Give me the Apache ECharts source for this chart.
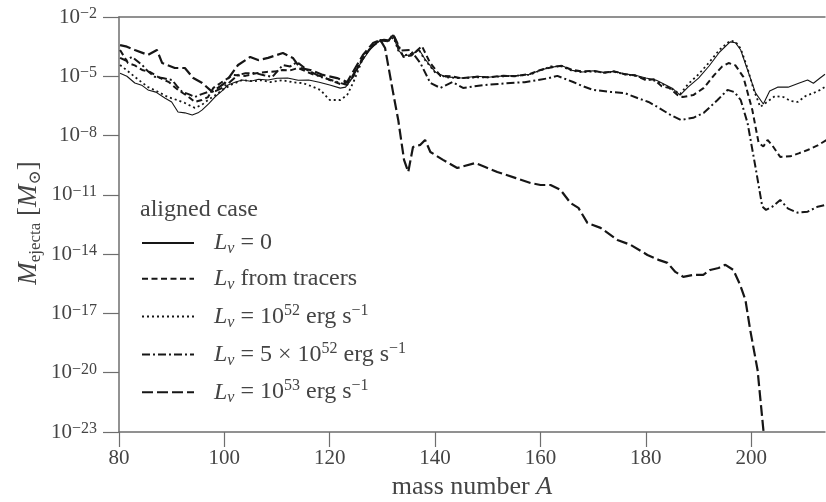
<!DOCTYPE html>
<html>
<head>
<meta charset="utf-8">
<script src="https://cdn.jsdelivr.net/npm/echarts/dist/echarts.min.js"></script>
<style>
  html, body { margin: 0; background: #fff; }
  #chart { width: 826px; height: 502px; }
</style>
</head>
<body>
<div id="chart"></div>
<script>
// mass number A, log10(M_ejecta / M_sun)
var xTicks = [80, 100, 120, 140, 160, 180, 200];
var yTickExp = [-23, -20, -17, -14, -11, -8, -5, -2];

var lNone = [[80.2,-4.85],[81.5,-5.0],[83,-5.34],[84.3,-5.45],[85.5,-5.69],[87,-5.8],[88.7,-6.1],[90,-6.3],[91.2,-6.81],[92.5,-6.85],[93.9,-6.96],[95,-6.85],[95.8,-6.7],[97,-6.4],[98.2,-6.05],[99.5,-5.75],[100.7,-5.44],[102,-5.3],[103.4,-5.19],[105,-5.25],[106.5,-5.15],[108.3,-5.19],[110,-5.1],[112,-5.09],[114,-5.2],[116,-5.19],[118,-5.3],[120,-5.44],[122,-5.6],[123,-5.55],[124,-5.2],[126,-4.28],[128,-3.52],[129.5,-3.2],[131,-3.25],[132,-2.9],[133,-3.67],[134,-3.97],[135.5,-3.9],[137,-3.67],[138,-4.1],[140,-4.78],[142,-5.03],[145,-5.09],[148,-5.0],[150,-5.05],[153,-4.98],[155,-4.98],[158,-4.9],[160,-4.68],[162,-4.55],[164,-4.45],[166,-4.7],[168,-4.78],[170,-4.72],[172,-4.8],[174,-4.75],[176,-4.88],[178,-4.95],[180,-5.09],[182,-5.2],[183.5,-5.4],[185,-5.6],[186.5,-5.95],[188,-5.55],[190,-5.09],[192,-4.48],[194,-3.77],[196,-3.26],[197,-3.3],[198,-3.67],[199.3,-4.68],[200.8,-5.84],[202.3,-6.4],[203.5,-5.75],[205,-5.55],[207,-5.55],[209,-5.35],[210.7,-5.19],[211.8,-5.35],[213,-5.1],[214,-4.9]];

var lTracers = [[80.2,-3.67],[81.7,-4.33],[83,-4.45],[84.4,-4.68],[86,-4.8],[87.4,-5.03],[89.5,-5.3],[91.2,-5.69],[93,-6.0],[94.4,-6.3],[95.7,-6.2],[96.9,-6.05],[97.9,-5.59],[99.5,-5.3],[101.7,-4.93],[104,-4.98],[106,-4.85],[108,-4.78],[110,-4.75],[111,-4.68],[112.5,-4.7],[114,-4.58],[115.5,-4.75],[117,-4.93],[118.5,-5.0],[120,-5.19],[122,-5.39],[123.5,-5.3],[124.5,-5.0],[126,-4.18],[128,-3.47],[130,-3.16],[131.2,-3.2],[132,-2.86],[133,-3.5],[134,-4.02],[135.5,-3.95],[137.5,-3.47],[139,-4.3],[141,-4.98],[143,-5.0],[145,-5.1],[148,-5.02],[150,-5.05],[153,-4.97],[155,-5.0],[158,-4.88],[160,-4.68],[162,-4.55],[164,-4.47],[166,-4.68],[168,-4.75],[170,-4.72],[172,-4.82],[174,-4.75],[176,-4.9],[178,-4.95],[180,-5.19],[181.5,-5.15],[183,-5.5],[184.5,-5.6],[186,-5.95],[187,-6.05],[189,-5.95],[191,-5.59],[193,-4.93],[194.5,-4.5],[195.7,-4.33],[197,-4.45],[198.5,-5.03],[200.2,-6.7],[201.4,-8.37],[202.3,-8.55],[203.1,-8.22],[204,-8.5],[205.5,-9.08],[207.4,-9.05],[209,-8.9],[210.7,-8.73],[212.6,-8.5],[214.3,-8.22]];

var l52 = [[80.2,-4.43],[81.5,-4.7],[83,-5.03],[84.3,-5.3],[85.5,-5.54],[87.5,-5.8],[89.3,-6.05],[91,-6.2],[92.5,-6.35],[94.4,-6.6],[95.7,-6.45],[96.9,-6.2],[98.3,-5.95],[99.6,-5.69],[101.5,-5.4],[103.4,-5.19],[105.5,-5.25],[107,-5.2],[108.7,-5.29],[111,-5.2],[113,-5.3],[115,-5.35],[116.5,-5.5],[118.2,-5.69],[120,-6.2],[122,-6.2],[123.3,-5.95],[124.5,-5.29],[126.3,-4.1],[128,-3.45],[129.6,-3.16],[131,-3.2],[132,-2.95],[133,-3.7],[134,-3.95],[135.5,-3.85],[137,-3.7],[138,-4.15],[140,-4.8],[142,-5.05],[145,-5.1],[148,-5.05],[150,-5.05],[153,-5.0],[155,-4.98],[158,-4.92],[160,-4.7],[162,-4.5],[164,-4.5],[166,-4.72],[168,-4.8],[170,-4.75],[172,-4.82],[174,-4.78],[176,-4.9],[178,-4.98],[180,-5.12],[182,-5.25],[183.5,-5.45],[185,-5.65],[186.5,-5.9],[188,-5.4],[190,-4.9],[192,-4.3],[194,-3.65],[196,-3.2],[197,-3.25],[198,-3.6],[199.3,-4.6],[200.5,-5.7],[201.7,-6.55],[203,-6.3],[204.5,-6.0],[206.1,-6.05],[207.5,-6.25],[208.8,-6.3],[210.3,-6.0],[211.8,-5.85],[213,-5.7],[214,-5.54]];

var l5x52 = [[80.2,-4.07],[81.3,-4.2],[82.5,-4.02],[84.4,-4.43],[85.5,-4.75],[86.8,-5.03],[88.5,-5.1],[90.1,-5.19],[91,-5.5],[92,-5.79],[93.2,-5.9],[94.4,-6.05],[95.7,-5.9],[96.9,-5.79],[98.3,-5.75],[99.6,-5.59],[101,-5.3],[102.6,-4.93],[104,-4.85],[105.8,-4.83],[107.5,-4.95],[109.1,-5.03],[111.1,-4.43],[112.5,-4.5],[113.8,-4.28],[115.7,-4.68],[117,-4.85],[118.2,-5.03],[119.8,-5.15],[121.4,-5.29],[123.3,-5.44],[125.2,-4.58],[127.1,-3.77],[129,-3.26],[130.3,-3.15],[131.5,-3.2],[132.2,-2.95],[133.5,-3.7],[135.3,-3.67],[137.2,-4.33],[139.1,-5.34],[141,-5.59],[143.3,-5.29],[145.3,-5.59],[149,-5.45],[154.3,-5.34],[157,-5.3],[159.4,-5.19],[161.5,-5.1],[163.2,-4.98],[166.2,-5.29],[168,-5.5],[170,-5.69],[173.3,-5.79],[176,-5.85],[178.4,-6.1],[180.5,-6.3],[182.2,-6.55],[184.7,-6.96],[186.6,-7.21],[189,-7.1],[191,-6.85],[193.6,-6.2],[195.5,-5.69],[196.8,-5.8],[198,-6.2],[199.3,-7.36],[200.8,-9.59],[202.1,-11.6],[202.8,-11.76],[204,-11.6],[205.5,-11.26],[207,-11.7],[208.8,-11.9],[210.7,-11.85],[212.6,-11.6],[214.3,-11.5]];

var l53 = [[80.2,-3.42],[81.5,-3.5],[83,-3.67],[85.5,-3.92],[87.2,-3.67],[88.2,-4.33],[90.6,-4.58],[92.5,-4.58],[94.1,-5.09],[95.8,-5.34],[97.7,-5.79],[100.1,-5.34],[102.6,-4.43],[104.9,-4.02],[106.4,-4.18],[108.3,-4.07],[111.1,-3.82],[113,-4.07],[114.4,-4.58],[116.3,-4.68],[118.7,-4.93],[121.4,-5.09],[123.3,-5.29],[124.4,-4.78],[126.3,-3.92],[128.2,-3.32],[129.6,-3.16],[130.5,-3.57],[132,-5.79],[133,-7.21],[134.1,-9.23],[134.9,-9.84],[135.8,-8.58],[137.2,-8.47],[138.1,-8.22],[139.1,-8.83],[141.5,-9.23],[144.2,-9.64],[147.6,-9.39],[149.5,-9.59],[151.8,-9.84],[155.2,-10.14],[158.1,-10.4],[160,-10.5],[161.9,-10.5],[163.8,-10.75],[165.7,-11.41],[167.2,-11.66],[168.9,-12.42],[171.4,-12.67],[174.6,-13.28],[177.1,-13.53],[180.3,-14.04],[182.4,-14.29],[184.1,-14.44],[185.6,-14.9],[187.1,-15.15],[189,-15.05],[190.9,-15.05],[192.2,-14.8],[193.8,-14.7],[195.1,-14.54],[196.6,-14.8],[197.9,-15.56],[198.9,-16.32],[199.8,-17.83],[201.2,-19.86],[202.3,-22.89],[202.9,-23.9]];

var seriesNames = ['L0', 'tracers', 'L52', 'L5x52', 'L53'];
var legendTexts = {
    L0: '{i|L}{sub|ν}{t| = 0}',
    tracers: '{i|L}{sub|ν}{t| from tracers}',
    L52: '{i|L}{sub|ν}{t| = 10}{sup|52}{t| erg s}{sup|−1}',
    L5x52: '{i|L}{sub|ν}{t| = 5 × 10}{sup|52}{t| erg s}{sup|−1}',
    L53: '{i|L}{sub|ν}{t| = 10}{sup|53}{t| erg s}{sup|−1}'
};

var serif = '"Liberation Serif", "DejaVu Serif", serif';
var axisColor = '#6e6e6e';
var textColor = '#444';
var lineColor = '#161616';

function toPoints (arr) {
    return arr.map(function (p) { return [p[0], Math.pow(10, p[1])]; });
}

function makeLine (name, data, width, dash) {
    return {
        name: name,
        type: 'line',
        data: toPoints(data),
        symbol: 'none',
        clip: true,
        animation: false,
        lineStyle: { color: lineColor, width: width, type: dash, cap: 'butt' },
        itemStyle: { color: lineColor, opacity: 0 }
    };
}

var yTicks = yTickExp.map(function (e) { return Math.pow(10, e); });

var chart = echarts.init(document.getElementById('chart'));

var option = {
    backgroundColor: '#fff',
    animation: false,
    grid: { left: 119, right: 1, top: 17, bottom: 70, containLabel: false, outerBoundsMode: 'none' },
    title: {
        text: 'aligned case',
        left: 135, top: 193,
        textStyle: { fontFamily: serif, fontSize: 24, fontWeight: 'normal', color: textColor }
    },
    // y axis title, drawn rotated beside the axis
    graphic: [{
        type: 'text',
        x: 29, y: 223,
        rotation: Math.PI / 2,
        style: {
            text: '{i|M}{sub|ejecta}{t| [}{i|M}{sub|⊙}{t|]}',
            align: 'center', verticalAlign: 'middle',
            rich: {
                i: { fontFamily: serif, fontStyle: 'italic', fontSize: 27, lineHeight: 30, fill: textColor },
                t: { fontFamily: serif, fontSize: 27, lineHeight: 30, fill: textColor },
                sub: { fontFamily: serif, fontSize: 17, lineHeight: 15, verticalAlign: 'bottom', fill: textColor }
            }
        }
    }],
    legend: {
        orient: 'vertical',
        left: 141, top: 231,
        padding: 0,
        itemWidth: 52, itemHeight: 14, itemGap: 9.8,
        data: seriesNames,
        itemStyle: { opacity: 0 },
        formatter: function (name) { return legendTexts[name]; },
        textStyle: {
            color: textColor,
            padding: [0, 0, 0, 15],
            rich: {
                i: { fontFamily: serif, fontStyle: 'italic', fontSize: 24, lineHeight: 28, color: textColor },
                t: { fontFamily: serif, fontSize: 24, lineHeight: 28, color: textColor },
                sub: { fontFamily: serif, fontStyle: 'italic', fontSize: 16, lineHeight: 14, verticalAlign: 'bottom', color: textColor },
                sup: { fontFamily: serif, fontSize: 16, lineHeight: 14, verticalAlign: 'top', color: textColor }
            }
        }
    },
    xAxis: [{
        type: 'value', min: 80, max: 214, position: 'bottom',
        axisLine: { onZero: false, lineStyle: { color: axisColor, width: 1.5 } },
        axisTick: { show: true, length: 15, customValues: xTicks, lineStyle: { color: axisColor, width: 1.2 } },
        axisLabel: { customValues: xTicks, margin: 16, fontFamily: serif, fontSize: 21, color: textColor },
        splitLine: { show: false },
        name: '{t|mass number }{i|A}',
        nameLocation: 'middle', nameGap: 30,
        nameTextStyle: {
            rich: {
                t: { fontFamily: serif, fontSize: 26, color: textColor },
                i: { fontFamily: serif, fontStyle: 'italic', fontSize: 26, color: textColor }
            }
        }
    }, {
        type: 'value', min: 80, max: 214, position: 'top',
        axisLine: { show: true, onZero: false, lineStyle: { color: axisColor, width: 1.5 } },
        axisTick: { show: false }, axisLabel: { show: false }, splitLine: { show: false }
    }],
    yAxis: {
        type: 'log', logBase: 10, min: yTicks[0], max: yTicks[yTicks.length - 1],
        axisLine: { show: true, onZero: false, lineStyle: { color: axisColor, width: 1.5 } },
        axisTick: { show: true, length: 16, customValues: yTicks, lineStyle: { color: axisColor, width: 1.2 } },
        splitLine: { show: false },
        minorTick: { show: false },
        axisLabel: {
            margin: 22,
            customValues: yTicks,
            hideOverlap: false,
            formatter: function (v) {
                var e = Math.round(Math.log10(v));
                return '{b|10}{s|−' + Math.abs(e) + '}';
            },
            rich: {
                b: { fontFamily: serif, fontSize: 21, lineHeight: 22, color: textColor },
                s: { fontFamily: serif, fontSize: 16, lineHeight: 12, verticalAlign: 'top', color: textColor }
            }
        }
    },
    series: [
        makeLine('L0', lNone, 1.1, 'solid'),
        makeLine('tracers', lTracers, 2, [6, 3.5]),
        makeLine('L52', l52, 1.8, [2, 3]),
        makeLine('L5x52', l5x52, 2, [8, 3, 2, 3]),
        makeLine('L53', l53, 2.2, [11, 4])
    ]
};

chart.setOption(option);
</script>
</body>
</html>
